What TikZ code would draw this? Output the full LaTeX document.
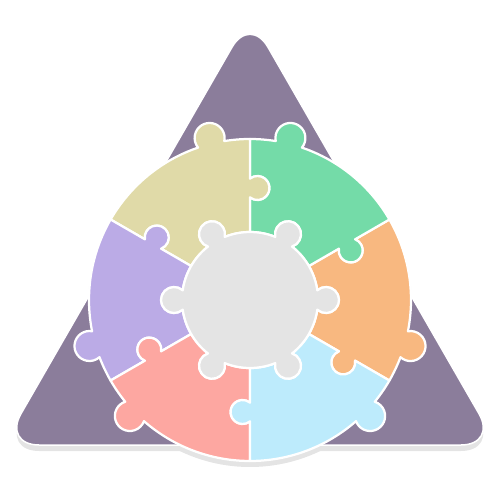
\documentclass[tikz,border=0pt]{standalone}
\usepackage{tikz}

\definecolor{pzframe}{HTML}{8B7D9B}
\definecolor{pzshadow}{HTML}{E4E4E4}
\definecolor{pzyellow}{HTML}{E0DAA8}
\definecolor{pzgreen}{HTML}{74DBA8}
\definecolor{pzorange}{HTML}{F8B880}
\definecolor{pzblue}{HTML}{BDEBFC}
\definecolor{pzpink}{HTML}{FDA7A1}
\definecolor{pzpurple}{HTML}{BBABE6}
\definecolor{pzgray}{HTML}{E4E4E4}

\tikzset{
  piece/.style={draw=white, line width=0.45mm, line join=round},
  frame/.style={rounded corners=7.2mm}
}

\begin{document}
\begin{tikzpicture}[x=0.2mm, y=0.2mm]
    \useasboundingbox (-250,-200) rectangle (250,300);

    % Shadows
    \fill[pzshadow, frame] (0,278) -- (-247,-151) -- (247,-151) -- cycle;
    \fill[pzshadow] (0,-5) circle [radius=162];

    % Triangle behind the ring
    \draw[frame, fill=pzframe, draw=white, line width=0.3mm]
        (0,284) -- (-247,-145) -- (247,-145) -- cycle;

    % Ring pieces
    \foreach \a/\k/\col in {-30/14/pzorange, 30/46/pzgreen, 90/14/pzyellow,
                            150/46/pzpurple, 210/14/pzpink, 270/46/pzblue} {
        \path[piece, fill=\col]
            (\a:68) -- (\a:102.63)
            arc[start angle=\a+141.33, end angle=\a+398.67, radius=12]
            -- (\a:161)
            arc[start angle=\a, end angle=\a+\k-4.81, radius=161]
            arc[start angle=\a+\k-115.95, end angle=\a+\k+115.95, radius=15]
            arc[start angle=\a+\k+4.81, end angle=\a+60, radius=161]
            -- ({\a+60}:121.37)
            arc[start angle=\a+98.67, end angle=\a-158.67, radius=12]
            -- ({\a+60}:68)
            arc[start angle=\a+60, end angle=\a+38.18, radius=68]
            arc[start angle=\a+161.96, end angle=\a-101.96, radius=13]
            arc[start angle=\a+21.82, end angle=\a, radius=68]
            -- cycle;
    }

    % Centre piece
    \path[piece, fill=pzgray] (-30:68)
        \foreach \ang in {0,60,...,300} {
            arc[start angle=\ang-30, end angle=\ang-8.18, radius=68]
            arc[start angle=\ang-131.96, end angle=\ang+131.96, radius=13]
            arc[start angle=\ang+8.18, end angle=\ang+30, radius=68]
        } -- cycle;

\end{tikzpicture}
\end{document}
